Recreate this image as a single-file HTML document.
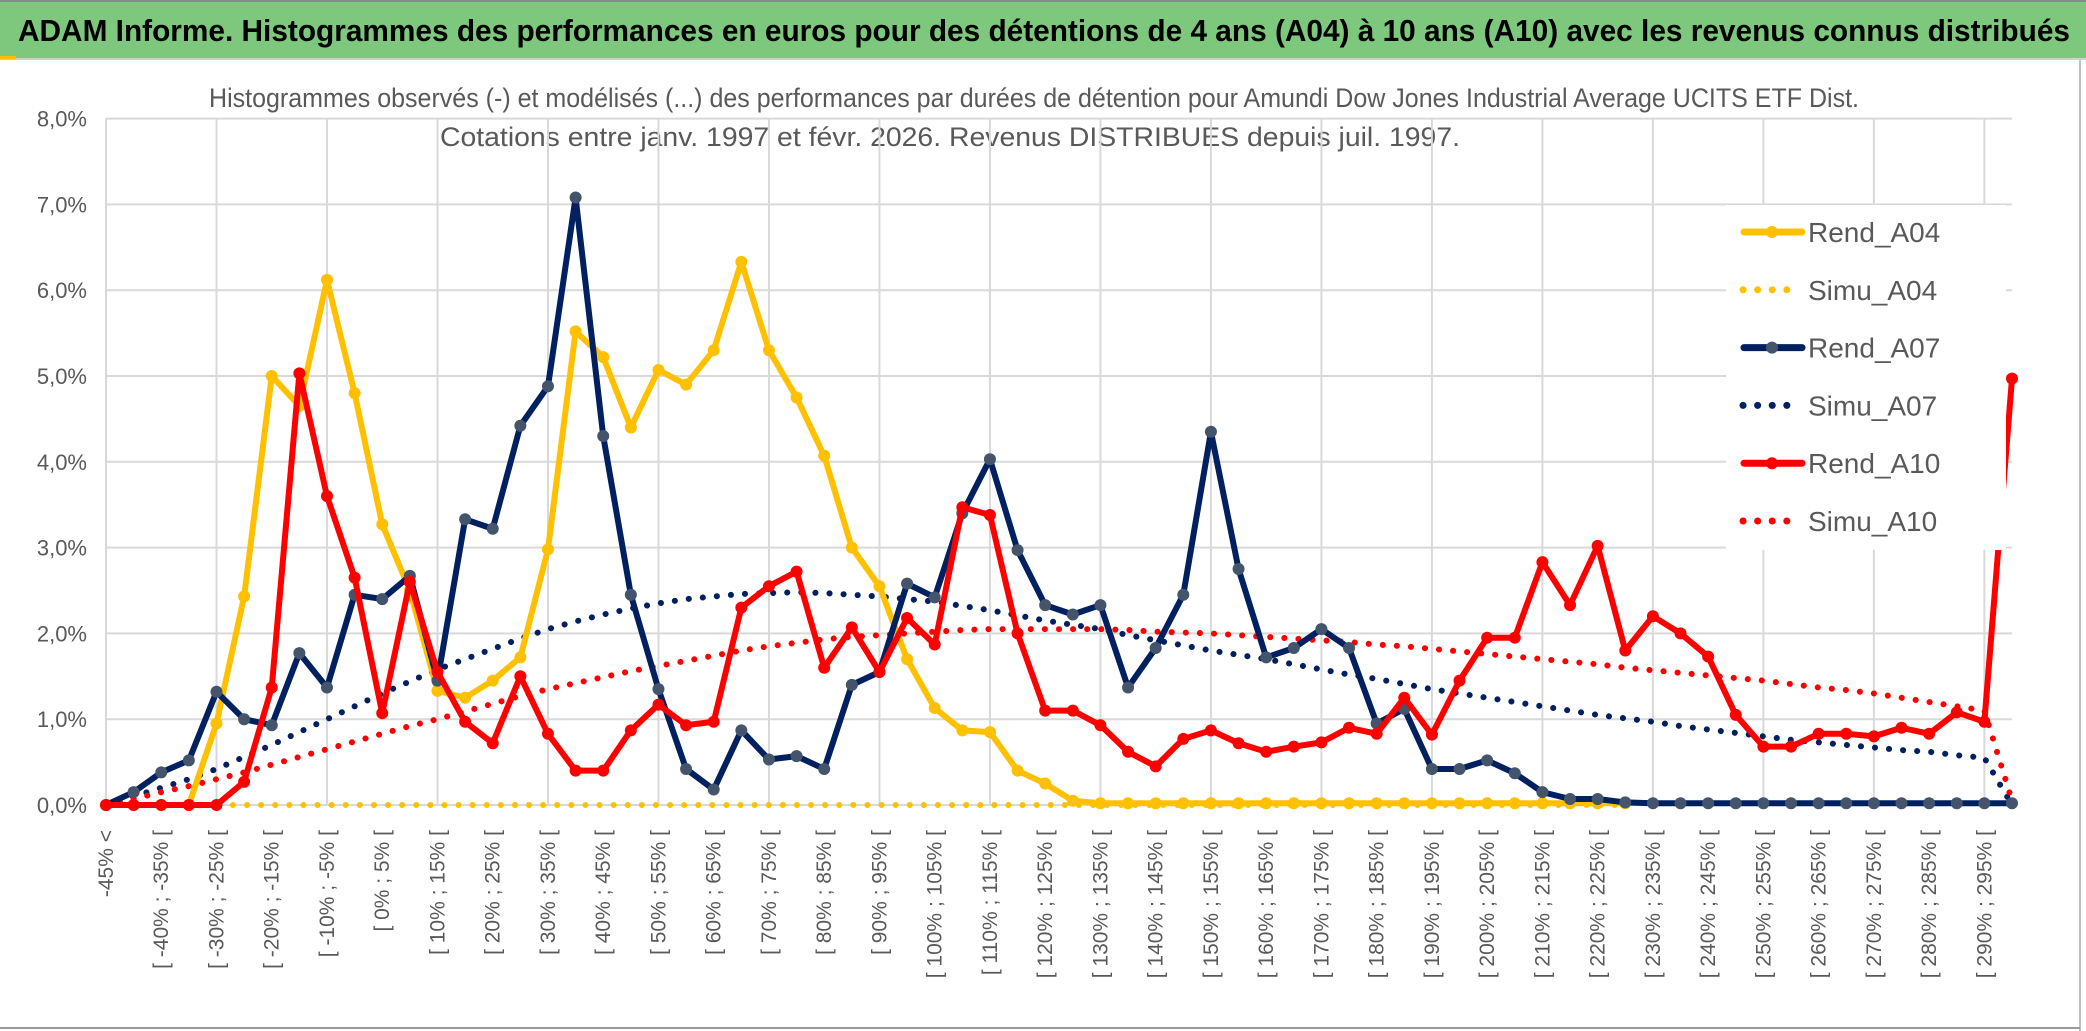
<!DOCTYPE html>
<html><head><meta charset="utf-8"><style>
html,body{margin:0;padding:0;background:#fff;}
svg{display:block;}
</style></head><body>
<svg id="chart" width="2086" height="1031" viewBox="0 0 2086 1031" xmlns="http://www.w3.org/2000/svg" font-family="'Liberation Sans Narrow','Liberation Sans',sans-serif">
<rect x="0" y="0" width="2086" height="1031" fill="#fff"/>
<rect x="0" y="0" width="2086" height="58" fill="#7DC87D"/>
<line x1="0" y1="1" x2="2086" y2="1" stroke="#8a8a8a" stroke-width="2"/>
<line x1="0" y1="59" x2="2086" y2="59" stroke="#d0d0d0" stroke-width="2"/>
<rect x="0" y="56" width="16" height="3" fill="#FFC000"/>
<text x="18" y="41" font-size="31" font-weight="bold" fill="#000" textLength="2052" lengthAdjust="spacingAndGlyphs">ADAM Informe. Histogrammes des performances en euros pour des détentions de 4 ans (A04) à 10 ans (A10) avec les revenus connus distribués</text>
<line x1="2080" y1="60" x2="2080" y2="1031" stroke="#bfbfbf" stroke-width="2"/>
<line x1="0" y1="1028" x2="2080" y2="1028" stroke="#9a9a9a" stroke-width="2"/>
<text x="1034" y="107" font-size="27" fill="#595959" text-anchor="middle" textLength="1650" lengthAdjust="spacingAndGlyphs">Histogrammes observés (-) et modélisés (...) des performances par durées de détention pour Amundi Dow Jones Industrial Average UCITS ETF Dist.</text>
<text x="950" y="146" font-size="27" fill="#595959" text-anchor="middle" textLength="1020" lengthAdjust="spacingAndGlyphs">Cotations entre janv. 1997 et févr. 2026. Revenus DISTRIBUES depuis juil. 1997.</text>
<g id="grid"></g>
<g id="ylabels"></g>
<g id="xlabels"></g>
<g id="series"></g>
<g id="legend"></g>
</svg>
<script>
const categoriesCount = 70;
const yTicks = [0,1,2,3,4,5,6,7,8];
const rendA04 = [0,0,0,0,0.95,2.43,5.0,4.65,6.12,4.8,3.27,2.5,1.33,1.25,1.45,1.72,2.98,5.52,5.22,4.4,5.07,4.9,5.3,6.33,5.3,4.75,4.07,3.0,2.55,1.7,1.13,0.87,0.85,0.4,0.25,0.05,0.02,0.02,0.02,0.02,0.02,0.02,0.02,0.02,0.02,0.02,0.02,0.02,0.02,0.02,0.02,0.02,0.02,0.02,0.02,0.02];
const simuA04 = [0,0,0,0,0,0,0,0,0,0,0,0,0,0,0,0,0,0,0,0,0,0,0,0,0,0,0,0,0,0,0,0,0,0,0,0,0,0,0,0,0,0,0,0,0,0,0,0,0,0,0,0,0,0,0,0];
const rendA07 = [0,0.15,0.38,0.52,1.32,1.0,0.93,1.77,1.37,2.45,2.4,2.67,1.45,3.33,3.22,4.42,4.88,7.08,4.3,2.45,1.35,0.42,0.18,0.87,0.53,0.57,0.42,1.4,1.55,2.58,2.42,3.4,4.03,2.97,2.33,2.22,2.33,1.37,1.83,2.45,4.35,2.75,1.72,1.83,2.05,1.83,0.95,1.12,0.42,0.42,0.52,0.37,0.15,0.07,0.07,0.03,0.02,0.02,0.02,0.02,0.02,0.02,0.02,0.02,0.02,0.02,0.02,0.02,0.02,0.02];
const simuA07 = [0,0.1,0.2,0.3,0.42,0.56,0.7,0.85,1.0,1.15,1.3,1.44,1.58,1.7,1.82,1.94,2.05,2.14,2.22,2.29,2.35,2.4,2.43,2.46,2.47,2.48,2.47,2.45,2.43,2.4,2.37,2.32,2.27,2.21,2.15,2.1,2.05,1.98,1.92,1.86,1.8,1.75,1.7,1.64,1.58,1.52,1.47,1.41,1.35,1.3,1.25,1.2,1.15,1.1,1.05,1.01,0.97,0.92,0.88,0.84,0.8,0.76,0.73,0.7,0.67,0.64,0.62,0.58,0.55,0];
const rendA10 = [0,0,0,0,0,0.27,1.37,5.03,3.6,2.65,1.07,2.6,1.55,0.97,0.72,1.5,0.83,0.4,0.4,0.87,1.17,0.93,0.97,2.3,2.55,2.72,1.6,2.07,1.55,2.18,1.87,3.47,3.38,2.0,1.1,1.1,0.93,0.62,0.45,0.77,0.87,0.72,0.62,0.68,0.73,0.9,0.83,1.25,0.82,1.45,1.95,1.95,2.83,2.33,3.02,1.8,2.2,2.0,1.73,1.05,0.68,0.68,0.83,0.83,0.8,0.9,0.83,1.08,0.97,4.97];
const simuA10 = [0,0.07,0.15,0.22,0.3,0.38,0.47,0.56,0.65,0.74,0.83,0.92,1.0,1.09,1.18,1.27,1.35,1.42,1.49,1.56,1.62,1.68,1.74,1.8,1.85,1.89,1.93,1.96,1.98,2.0,2.02,2.04,2.05,2.05,2.05,2.05,2.05,2.04,2.02,2.01,2.0,1.98,1.96,1.94,1.92,1.9,1.87,1.85,1.82,1.79,1.76,1.73,1.7,1.67,1.64,1.6,1.57,1.54,1.51,1.48,1.45,1.41,1.37,1.34,1.3,1.25,1.2,1.15,1.1,0.05];

const NS = 'http://www.w3.org/2000/svg';
const X0 = 106, XSTEP = (2012-106)/69, Y0 = 805, YUNIT = 85.8;
function xPos(i){ return X0 + i*XSTEP; }
function yPos(v){ return Y0 - v*YUNIT; }
function mk(tag, attrs, parent){ const e=document.createElementNS(NS,tag); for(const k in attrs) e.setAttribute(k,attrs[k]); parent.appendChild(e); return e; }
function catLabel(i){ if(i===0) return '-45% <'; const a=-45+5*(i-1); return '[ '+a+'% ; '+(a+5)+'% ['; }

const grid = document.getElementById('grid');
yTicks.forEach(t=>{
  const l = mk('line',{x1:X0,x2:2012,y1:yPos(t),y2:yPos(t),stroke:'#D9D9D9','stroke-width':2},grid);
  
  
});
for(let i=0;i<categoriesCount;i+=4){
  const l = mk('line',{x1:xPos(i),x2:xPos(i),y1:yPos(8),y2:Y0,stroke:'#D9D9D9','stroke-width':2},grid);
  
  
}
const yl = document.getElementById('ylabels');
yTicks.forEach(t=>{
  const tx = mk('text',{x:87,y:yPos(t)+8,'font-size':22,fill:'#595959','text-anchor':'end'},yl);
  tx.textContent = t.toFixed(1).replace('.',',')+'%';
  
  
});
const xl = document.getElementById('xlabels');
for(let i=0;i<categoriesCount-1;i+=2){
  const x = xPos(i)+7;
  const tx = mk('text',{x:x,y:830,'font-size':21,fill:'#595959','text-anchor':'end',transform:'rotate(-90 '+x+' 830)'},xl);
  tx.textContent = catLabel(i);
  
  
}

const ser = document.getElementById('series');
function drawDotted(vals,color,name){
  const pts = vals.map((v,i)=>xPos(i)+','+yPos(v)).join(' ');
  const p = mk('polyline',{points:pts,fill:'none',stroke:color,'stroke-width':6,'stroke-linecap':'round','stroke-dasharray':'0.1 14'},ser);
  
  
}
function drawSolid(vals,color,marker,name){
  const g = mk('g',{},ser);
  
  
  const pts = vals.map((v,i)=>xPos(i)+','+yPos(v)).join(' ');
  mk('polyline',{points:pts,fill:'none',stroke:color,'stroke-width':6,'stroke-linejoin':'round'},g);
  vals.forEach((v,i)=>{
    const c = mk('circle',{cx:xPos(i),cy:yPos(v),r:6,fill:marker},g);
    
    
  });
}
drawDotted(simuA04,'#FFC000','simu-a04-line');
drawDotted(simuA07,'#002060','simu-a07-line');
drawDotted(simuA10,'#FF0000','simu-a10-line');
drawSolid(rendA04,'#FFC000','#FFC000','rend-a04-line');
drawSolid(rendA07,'#002060','#44546A','rend-a07-line');
drawSolid(rendA10,'#FF0000','#FF0000','rend-a10-line');

const leg = document.getElementById('legend');
mk('rect',{x:1726,y:205,width:280,height:345,fill:'#fff'},leg);
const legendItems = [['Rend_A04','#FFC000','#FFC000',false],['Simu_A04','#FFC000',null,true],['Rend_A07','#002060','#44546A',false],['Simu_A07','#002060',null,true],['Rend_A10','#FF0000','#FF0000',false],['Simu_A10','#FF0000',null,true]];
legendItems.forEach((it,k)=>{
  const y = 232 + k*57.8;
  const g = mk('g',{},leg);
  
  
  if(it[3]){
    mk('line',{x1:1743,x2:1801,y1:y,y2:y,stroke:it[1],'stroke-width':7,'stroke-linecap':'round','stroke-dasharray':'0.1 14.5'},g);
  } else {
    mk('line',{x1:1744,x2:1802,y1:y,y2:y,stroke:it[1],'stroke-width':7,'stroke-linecap':'round'},g);
    mk('circle',{cx:1772,cy:y,r:6,fill:it[2]},g);
  }
  const t = mk('text',{x:1808,y:y+10,'font-size':28,fill:'#595959'},g);
  t.textContent = it[0];
});
</script>
</body></html>
